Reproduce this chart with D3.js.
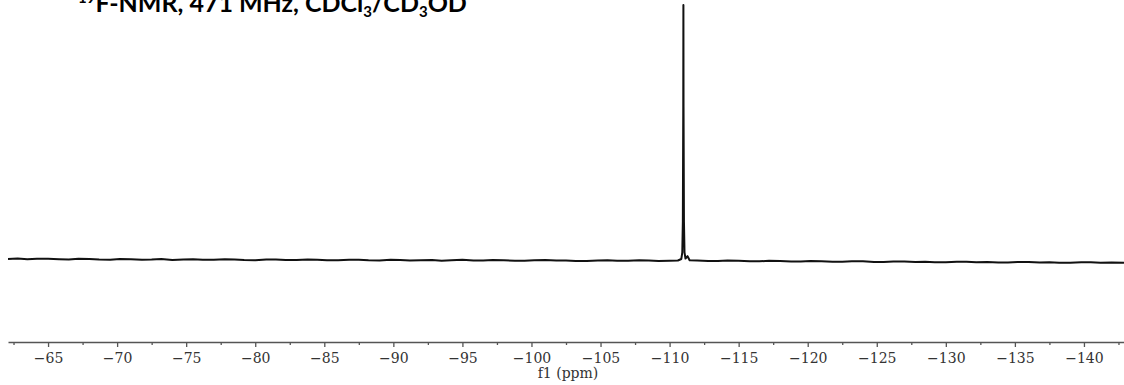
<!DOCTYPE html>
<html>
<head>
<meta charset="utf-8">
<script src="https://cdn.jsdelivr.net/npm/d3@7"></script>
<style>
  html, body { margin: 0; padding: 0; background: #fff; }
  svg { display: block; }
</style>
</head>
<body>
<div id="chart"></div>
<script>
// spectrum: ppm and intensity (peak = 100)
const ppm = [-62.1, -62.8, -63.5, -64.2, -65, -65.8, -66.5, -67.2, -68, -68.7, -69.5, -70.2, -71, -71.8, -72.5, -73.2,
  -74, -74.8, -75.5, -76.2, -77, -77.8, -78.5, -79.2, -80, -80.8, -81.5, -82.2, -83, -83.8, -84.5, -85.2,
  -86, -86.8, -87.5, -88.2, -89, -89.8, -90.5, -91.2, -92, -92.8, -93.5, -94.2, -95, -95.8, -96.5, -97.2,
  -98, -98.8, -99.5, -100.2, -101, -101.8, -102.5, -103.2, -104, -104.8, -105.5, -106.2, -107, -107.8, -108.5,
  -109.2, -110, -110.6, -110.85, -110.92, -110.96, -110.99, -111.0, -111.01, -111.04, -111.08, -111.15, -111.3, -111.45,
  -112, -112.8, -113.5, -114.2, -115, -115.8, -116.5, -117.2, -118, -118.8, -119.5, -120.2, -121, -121.8, -122.5,
  -123.2, -124, -124.8, -125.5, -126.2, -127, -127.8, -128.5, -129.2, -130, -130.8, -131.5, -132.2, -133,
  -133.8, -134.5, -135.2, -136, -136.8, -137.5, -138.2, -139, -139.8, -140.5, -141.2, -142, -142.9];
const intensity = [0.4, 0.6, 0.3, 0.5, 0.5, 0.3, 0.2, 0.5, 0.4, 0.2, 0.1, 0.4, 0.3, 0.1, 0.2, 0.4,
  0.0, 0.2, 0.3, 0.1, 0.1, 0.3, 0.2, 0.0, -0.1, 0.2, 0.2, 0.0, 0.0, 0.2, 0.1, -0.1,
  -0.1, 0.1, 0.1, -0.1, -0.2, 0.1, 0.0, -0.2, -0.1, 0.0, -0.3, -0.1, 0.1, -0.2, -0.2, 0.0,
  -0.1, -0.3, -0.3, -0.1, 0.0, -0.2, -0.2, -0.4, -0.4, -0.2, -0.1, -0.3, -0.3, -0.1, -0.2,
  -0.4, -0.3, -0.2, 0.4, 3, 15, 60, 100, 60, 15, 3, 0.6, 1.5, -0.1,
  -0.2, -0.4, -0.4, -0.2, -0.3, -0.5, -0.5, -0.3, -0.4, -0.6, -0.6, -0.4, -0.5, -0.7, -0.7,
  -0.5, -0.5, -0.8, -0.8, -0.6, -0.6, -0.8, -0.7, -0.9, -0.9, -0.7, -0.7, -0.9, -0.8,
  -1.0, -1.0, -0.8, -0.8, -1.0, -0.9, -1.1, -1.1, -0.9, -0.9, -1.1, -1.0, -1.1];

const majorTicks = [-65, -70, -75, -80, -85, -90, -95, -100, -105, -110, -115, -120, -125, -130, -135, -140];
const minorTicks = [-62.5, -67.5, -72.5, -77.5, -82.5, -87.5, -92.5, -97.5, -102.5, -107.5, -112.5,
  -117.5, -122.5, -127.5, -132.5, -137.5, -142.5];
const xDomain = [-62.1, -142.9];

const width = 1124, height = 385;
const svg = d3.select("#chart").append("svg")
  .attr("width", width).attr("height", height);

const x = d3.scaleLinear().domain(xDomain).range([8, 1124]);
const y = d3.scaleLinear().domain([0, 100]).range([260, 5]);

const points = ppm.map((p, i) => ({ p, v: intensity[i] }));

// spectrum trace
const line = d3.line()
  .x(d => x(d.p))
  .y(d => y(d.v));

svg.append("path")
  .datum(points)
  .attr("fill", "none")
  .attr("stroke", "#111")
  .attr("stroke-width", 2)
  .attr("stroke-linejoin", "round")
  .attr("d", line);

// axis
const axisY = 342;
const axis = svg.append("g")
  .attr("transform", `translate(0,${axisY})`)
  .call(d3.axisBottom(x).tickValues(majorTicks).tickSize(5).tickSizeOuter(0)
    .tickFormat(d => "\u2212" + Math.abs(d)));

axis.select(".domain").attr("stroke", "#555").attr("stroke-width", 1.3);
axis.selectAll(".tick line").attr("stroke", "#555").attr("stroke-width", 1.3);
axis.selectAll(".tick text")
  .attr("y", 11)
  .attr("fill", "#333")
  .style("font-family", "'DejaVu Serif', serif")
  .style("font-size", "14px");

svg.append("g")
  .attr("transform", `translate(0,${axisY})`)
  .call(d3.axisBottom(x).tickValues(minorTicks).tickSize(3).tickFormat(""))
  .call(g => g.select(".domain").remove())
  .selectAll(".tick line").attr("stroke", "#555").attr("stroke-width", 1.3);

svg.append("text")
  .attr("x", 568).attr("y", 378)
  .attr("text-anchor", "middle")
  .attr("fill", "#333")
  .style("font-family", "'DejaVu Serif', serif")
  .style("font-size", "14px")
  .text("f1 (ppm)");

// title (cut off at the top like in the source)
const title = svg.append("text")
  .attr("x", 78).attr("y", 12)
  .attr("fill", "#000")
  .style("font-family", "Lato, 'Open Sans', sans-serif")
  .style("font-weight", "bold")
  .style("font-size", "25px");
title.append("tspan").attr("dy", -9).style("font-size", "15px").text("19");
title.append("tspan").attr("dy", 9).text("F-NMR, 471 MHz, CDCl");
title.append("tspan").attr("dy", 5).style("font-size", "15px").text("3");
title.append("tspan").attr("dy", -5).text("/CD");
title.append("tspan").attr("dy", 5).style("font-size", "15px").text("3");
title.append("tspan").attr("dy", -5).text("OD");
</script>
</body>
</html>
